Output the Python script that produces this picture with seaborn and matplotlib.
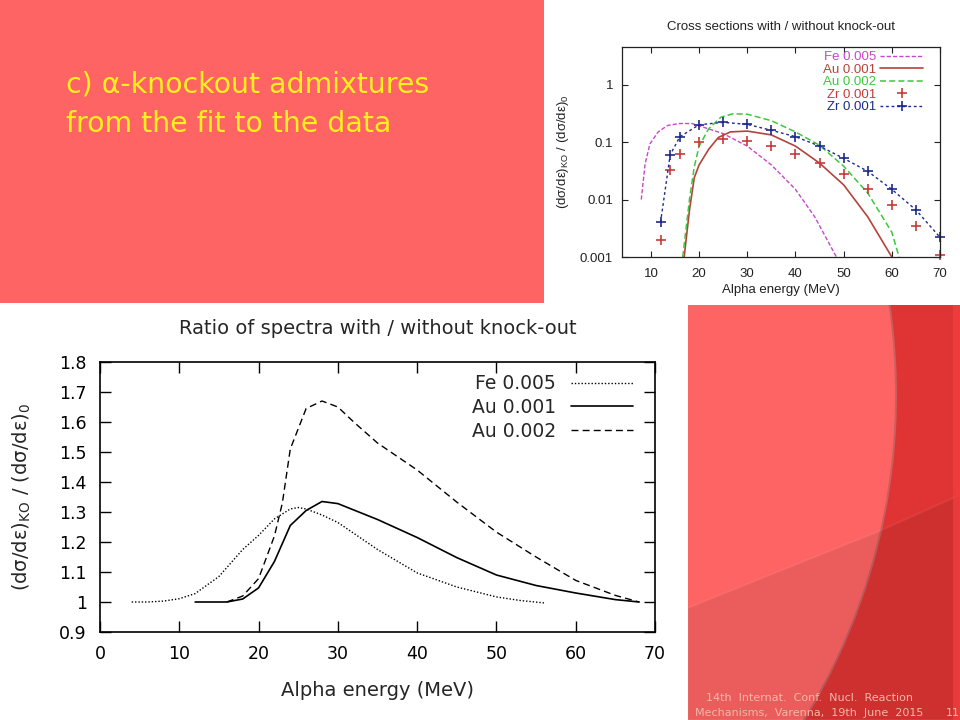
import matplotlib
matplotlib.use("Agg")
import matplotlib.pyplot as plt
import seaborn as sns
import numpy as np
from matplotlib.patches import Rectangle, Circle, Polygon
from matplotlib.ticker import NullLocator

sns.set_style("ticks")
plt.rcParams['font.family'] = ['Liberation Sans', 'DejaVu Sans']
plt.rcParams['mathtext.fontset'] = 'custom'
plt.rcParams['mathtext.rm'] = 'Liberation Sans'
plt.rcParams['mathtext.it'] = 'Liberation Sans:italic'

# --- ratio of spectra with / without knock-out (big plot) ---
fe_ratio_e = [4, 6, 8, 10, 12, 15, 18, 20, 22, 24, 25, 26, 28, 30, 35, 40, 45, 50, 53, 56]
fe_ratio = [1.0, 1.0, 1.003, 1.011, 1.028, 1.085, 1.175, 1.222, 1.277, 1.31, 1.315, 1.31,
            1.29, 1.265, 1.175, 1.097, 1.05, 1.017, 1.005, 0.997]
au1_ratio_e = [12, 16, 18, 20, 22, 24, 26, 28, 30, 35, 40, 45, 50, 55, 60, 65, 68]
au1_ratio = [1.0, 1.0, 1.01, 1.047, 1.135, 1.255, 1.305, 1.335, 1.328, 1.275, 1.215,
             1.148, 1.09, 1.055, 1.03, 1.008, 1.0]
au2_ratio_e = [16, 18, 20, 22, 23, 24, 26, 28, 30, 32, 35, 40, 45, 50, 55, 60, 65, 68]
au2_ratio = [1.0, 1.02, 1.078, 1.22, 1.33, 1.51, 1.645, 1.67, 1.65, 1.6, 1.53, 1.44,
             1.333, 1.233, 1.15, 1.072, 1.022, 1.0]

ratio_xticks = [0, 10, 20, 30, 40, 50, 60, 70]
ratio_yticks = [0.9, 1.0, 1.1, 1.2, 1.3, 1.4, 1.5, 1.6, 1.7, 1.8]
ratio_ylabels = ["0.9", "1", "1.1", "1.2", "1.3", "1.4", "1.5", "1.6", "1.7", "1.8"]

# --- cross sections with / without knock-out (small plot) ---
fe_xs_e = [8, 8.8, 9.8, 11.5, 13.5, 16, 18.5, 21, 25, 30, 35, 40, 44, 48.5]
fe_xs = [0.01, 0.042, 0.093, 0.15, 0.195, 0.21, 0.21, 0.18, 0.14, 0.085, 0.04, 0.015, 0.005, 0.001]
au1_xs_e = [16.9, 18, 19, 20, 22, 24, 26.5, 30, 35, 40, 45, 50, 55, 60]
au1_xs = [0.001, 0.0065, 0.024, 0.04, 0.075, 0.12, 0.15, 0.155, 0.133, 0.085, 0.043, 0.018, 0.005, 0.001]
au2_xs_e = [16.6, 18, 19, 20, 22, 24.5, 27, 30, 35, 40, 45, 50, 55, 60, 61.5]
au2_xs = [0.001, 0.01, 0.037, 0.085, 0.17, 0.27, 0.31, 0.305, 0.235, 0.15, 0.088, 0.038,
          0.013, 0.0027, 0.001]
zr_e = [12, 14, 16, 20, 25, 30, 35, 40, 45, 50, 55, 60, 65, 70]
zr_red = [0.002, 0.032, 0.063, 0.102, 0.115, 0.105, 0.087, 0.063, 0.044, 0.028, 0.015, 0.008,
          0.0035, 0.0011]
zr_blue = [0.004, 0.06, 0.123, 0.2, 0.22, 0.203, 0.16, 0.124, 0.085, 0.052, 0.031, 0.015,
           0.0066, 0.0022]

xs_xticks = [10, 20, 30, 40, 50, 60, 70]
xs_yticks = [0.001, 0.01, 0.1, 1]
xs_ylabels = ["0.001", "0.01", "0.1", "1"]

ylab = r"(dσ/dε)$_{\mathrm{KO}}$ / (dσ/dε)$_0$"

fig = plt.figure(figsize=(9.6, 7.2), dpi=100)
fig.patch.set_facecolor("white")

# slide background, drawn in pixel units
bg = fig.add_axes([0, 0, 1, 1])
bg.set_zorder(-1)
bg.set_xlim(0, 960)
bg.set_ylim(720, 0)
bg.axis("off")
bg.add_patch(Rectangle((0, 0), 544, 303, fc="#FF6464", ec="none"))
corner = Rectangle((688, 305), 272, 415, fc="#E03434", ec="none")
bg.add_patch(corner)
arc = Circle((276, 395), 620, fc="#FF6464", ec="#C86060", lw=1.4)
bg.add_patch(arc)
arc.set_clip_path(corner)
band = Polygon([(688, 608), (875, 533), (960, 495), (960, 720), (688, 720)],
               fc=(0, 0, 0, 0.08), ec=(1, 1, 1, 0.06), lw=1.5)
bg.add_patch(band)
band.set_clip_path(corner)
edge = Rectangle((953, 305), 7, 415, fc="#F44040", ec="none", alpha=0.7)
bg.add_patch(edge)

bg.text(66, 92, "c) α-knockout admixtures", fontsize=20.4, color="#FFF01E",
        family="DejaVu Sans", va="baseline")
bg.text(66, 132, "from the fit to the data", fontsize=20.4, color="#FFF01E",
        family="DejaVu Sans", va="baseline")
bg.text(706, 701, "14th  Internat.  Conf.  Nucl.  Reaction", fontsize=8, color="#F2B8A8",
        family="DejaVu Sans", va="baseline")
bg.text(695, 716, "Mechanisms,  Varenna,  19th  June  2015", fontsize=8, color="#F2B8A8",
        family="DejaVu Sans", va="baseline")
bg.text(946, 716, "11", fontsize=8, color="#F2B8A8", family="DejaVu Sans", va="baseline")

# big ratio plot (wide glyphs like the stretched gnuplot picture)
big_font = ["DejaVu Sans"]
ax = fig.add_axes([100 / 960, 1 - 632 / 720, 555 / 960, 270 / 720])
sns.lineplot(x=fe_ratio_e, y=fe_ratio, ax=ax, color="k", lw=1.0,
             linestyle=(0, (1, 1.4)), label="Fe 0.005")
sns.lineplot(x=au1_ratio_e, y=au1_ratio, ax=ax, color="k", lw=1.2, label="Au 0.001")
sns.lineplot(x=au2_ratio_e, y=au2_ratio, ax=ax, color="k", lw=1.0,
             linestyle=(0, (5, 3)), label="Au 0.002")
ax.set_xlim(0, 70)
ax.set_ylim(0.9, 1.8)
ax.set_xticks(ratio_xticks)
ax.set_yticks(ratio_yticks)
ax.set_yticklabels(ratio_ylabels)
ax.tick_params(direction="in", length=8, width=1, top=True, right=True,
               labelsize=12.5, colors="k")
ax.tick_params(axis="x", pad=9.5)
ax.tick_params(axis="y", pad=9.5)
for lab in ax.get_xticklabels() + ax.get_yticklabels():
    lab.set_family(big_font)
for s in ax.spines.values():
    s.set_linewidth(1.2)
    s.set_color("k")
ax.set_title("Ratio of spectra with / without knock-out", fontsize=14, pad=20, family=big_font)
ax.set_xlabel("Alpha energy (MeV)", fontsize=14, labelpad=13, family=big_font)
ax.set_ylabel(r"(dσ/dε)$_{\mathrm{KO}}$ / (dσ/dε)$_0$", fontsize=14, labelpad=19,
              family=big_font, math_fontfamily="dejavusans")
ax.legend(loc="upper right", bbox_to_anchor=(0.96, 0.955), frameon=False, markerfirst=False,
          handlelength=3.3, handletextpad=0.8, labelspacing=0.25, borderpad=0,
          borderaxespad=0, prop={"family": big_font, "size": 13.5})

# small cross section plot
ax2 = fig.add_axes([622 / 960, 1 - 257 / 720, 318 / 960, 210 / 720])
sns.lineplot(x=fe_xs_e, y=fe_xs, ax=ax2, color="#C648CC", lw=1.0,
             linestyle=(0, (3, 1.5)), label="Fe 0.005")
sns.lineplot(x=au1_xs_e, y=au1_xs, ax=ax2, color="#B2443A", lw=1.2, label="Au 0.001")
sns.lineplot(x=au2_xs_e, y=au2_xs, ax=ax2, color="#3CC83C", lw=1.1,
             linestyle=(0, (4, 2)), label="Au 0.002")
sns.lineplot(x=zr_e, y=zr_red, ax=ax2, color="#C83A3A", linestyle="none", marker="+",
             ms=7, mec="#C83A3A", mew=1.2, label="Zr 0.001", clip_on=False)
sns.lineplot(x=zr_e, y=zr_blue, ax=ax2, color="#1E2A8C", lw=1.0, linestyle=(0, (2, 2)),
             marker="+", ms=7, mec="#1E2A8C", mew=1.2, label="Zr 0.001", clip_on=False)
ax2.set_yscale("log")
ax2.set_xlim(4, 70)
ax2.set_ylim(0.001, 4.5)
ax2.set_xticks(xs_xticks)
ax2.set_yticks(xs_yticks)
ax2.set_yticklabels(xs_ylabels)
ax2.yaxis.set_minor_locator(NullLocator())
ax2.tick_params(direction="in", length=4, width=0.8, top=True, right=True,
                labelsize=9.5, colors="#222222")
ax2.tick_params(axis="x", pad=8)
ax2.tick_params(axis="y", pad=6.5)
for s in ax2.spines.values():
    s.set_linewidth(0.9)
    s.set_color("#222222")
ax2.set_title("Cross sections with / without knock-out", fontsize=9.5, pad=12, color="#222222")
ax2.set_xlabel("Alpha energy (MeV)", fontsize=9.5, labelpad=3, color="#222222")
ax2.set_ylabel(ylab, fontsize=9.5, labelpad=6, color="#222222")
ax2.legend(loc="upper right", bbox_to_anchor=(0.947, 0.981), frameon=False, markerfirst=False,
           handlelength=3.25, handletextpad=0.3, labelspacing=0.02, borderpad=0,
           borderaxespad=0, fontsize=9.5, labelcolor="linecolor")

fig.savefig("out.png", dpi=100, facecolor=fig.get_facecolor())
